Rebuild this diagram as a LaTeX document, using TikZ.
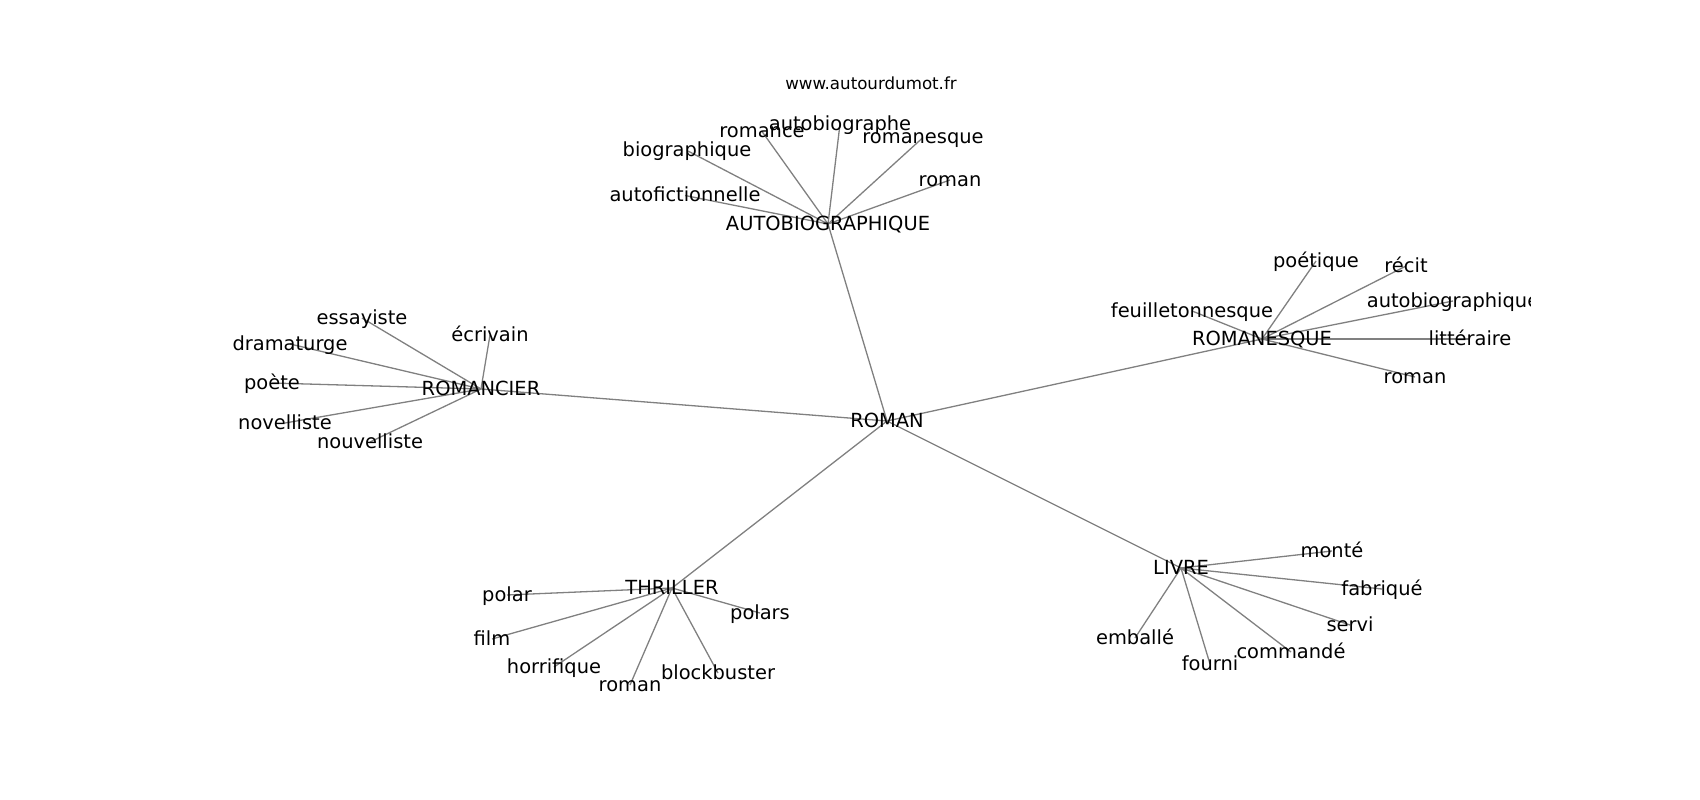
\documentclass[tikz,border=0pt]{standalone}
\usepackage{fontspec}
\setmainfont{DejaVu Sans}
\pgfdeclarelayer{background}
\pgfsetlayers{background,main}
\tikzset{
  mot/.style={inner sep=0pt, text height=15pt, text depth=3pt, font=\fontsize{19.44}{23}\selectfont},
  lien/.style={draw=black!50, line width=1.3pt},
}
\begin{document}
\begin{tikzpicture}[x=1pt,y=1pt,yscale=-1]
\useasboundingbox (0,0) rectangle (1700,800);
% Title
\node [anchor=base, inner sep=0pt, font=\fontsize{16.67}{20}\selectfont] (titre) at (871,89) {www.autourdumot.fr};
\begin{scope}
\clip (212.5,96) rectangle (1530,712);
% Text Node
\node [mot] (roman) at (887,421) {ROMAN};
% Text Node
\node [mot] (autobio) at (828,224) {AUTOBIOGRAPHIQUE};
\node [mot] (autobiographe) at (840,124) {autobiographe};
\node [mot] (romance) at (762,131.5) {romance};
\node [mot] (biographique) at (687,150.5) {biographique};
\node [mot] (autofictionnelle) at (685,195.5) {autofictionnelle};
\node [mot] (romanesque) at (923,137.5) {romanesque};
\node [mot] (romanA) at (950,180) {roman};
% Text Node
\node [mot] (romancier) at (481,389) {ROMANCIER};
\node [mot] (essayiste) at (362,318) {essayiste};
\node [mot] (ecrivain) at (490,335) {écrivain};
\node [mot] (dramaturge) at (290,344) {dramaturge};
\node [mot] (poete) at (272,383) {poète};
\node [mot] (novelliste) at (285,423) {novelliste};
\node [mot] (nouvelliste) at (370,442) {nouvelliste};
% Text Node
\node [mot] (romanesqueH) at (1262,339) {ROMANESQUE};
\node [mot] (feuilletonnesque) at (1192,311) {feuilletonnesque};
\node [mot] (poetique) at (1316,261) {poétique};
\node [mot] (recit) at (1406,266) {récit};
\node [mot] (autobiographique) at (1453,301) {autobiographique};
\node [mot] (litteraire) at (1470,339) {littéraire};
\node [mot] (romanR) at (1415,377) {roman};
% Text Node
\node [mot] (thriller) at (672,588) {THRILLER};
\node [mot] (polar) at (507,595) {polar};
\node [mot] (film) at (492,639) {film};
\node [mot] (horrifique) at (554,667) {horrifique};
\node [mot] (romanT) at (630,685) {roman};
\node [mot] (blockbuster) at (718,673) {blockbuster};
\node [mot] (polars) at (760,613) {polars};
% Text Node
\node [mot] (livre) at (1181,568) {LIVRE};
\node [mot] (monte) at (1332,551) {monté};
\node [mot] (fabrique) at (1382,589) {fabriqué};
\node [mot] (servi) at (1350,625) {servi};
\node [mot] (commande) at (1291,652) {commandé};
\node [mot] (fourni) at (1210,664) {fourni};
\node [mot] (emballe) at (1135,638) {emballé};
\end{scope}
\begin{pgfonlayer}{background}
%Straight Lines
\draw [lien] (roman.center) -- (autobio.center);
\draw [lien] (roman.center) -- (romancier.center);
\draw [lien] (roman.center) -- (romanesqueH.center);
\draw [lien] (roman.center) -- (thriller.center);
\draw [lien] (roman.center) -- (livre.center);
%Straight Lines
\draw [lien] (autobio.center) -- (autobiographe.center);
\draw [lien] (autobio.center) -- (romance.center);
\draw [lien] (autobio.center) -- (biographique.center);
\draw [lien] (autobio.center) -- (autofictionnelle.center);
\draw [lien] (autobio.center) -- (romanesque.center);
\draw [lien] (autobio.center) -- (romanA.center);
%Straight Lines
\draw [lien] (romancier.center) -- (essayiste.center);
\draw [lien] (romancier.center) -- (ecrivain.center);
\draw [lien] (romancier.center) -- (dramaturge.center);
\draw [lien] (romancier.center) -- (poete.center);
\draw [lien] (romancier.center) -- (novelliste.center);
\draw [lien] (romancier.center) -- (nouvelliste.center);
%Straight Lines
\draw [lien] (romanesqueH.center) -- (feuilletonnesque.center);
\draw [lien] (romanesqueH.center) -- (poetique.center);
\draw [lien] (romanesqueH.center) -- (recit.center);
\draw [lien] (romanesqueH.center) -- (autobiographique.center);
\draw [lien] (romanesqueH.center) -- (litteraire.center);
\draw [lien] (romanesqueH.center) -- (romanR.center);
%Straight Lines
\draw [lien] (thriller.center) -- (polar.center);
\draw [lien] (thriller.center) -- (film.center);
\draw [lien] (thriller.center) -- (horrifique.center);
\draw [lien] (thriller.center) -- (romanT.center);
\draw [lien] (thriller.center) -- (blockbuster.center);
\draw [lien] (thriller.center) -- (polars.center);
%Straight Lines
\draw [lien] (livre.center) -- (monte.center);
\draw [lien] (livre.center) -- (fabrique.center);
\draw [lien] (livre.center) -- (servi.center);
\draw [lien] (livre.center) -- (commande.center);
\draw [lien] (livre.center) -- (fourni.center);
\draw [lien] (livre.center) -- (emballe.center);
\end{pgfonlayer}
\end{tikzpicture}
\end{document}
